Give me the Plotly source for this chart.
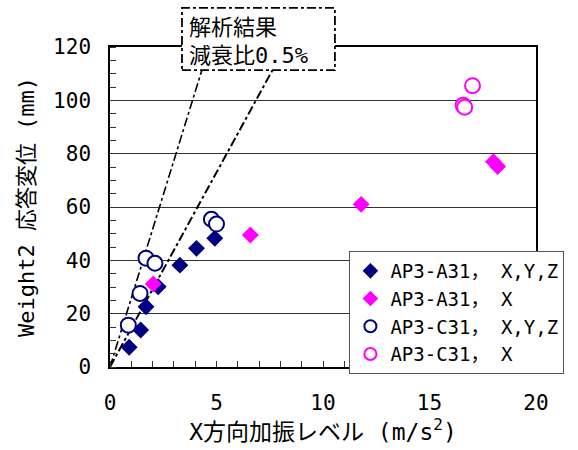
import plotly.graph_objects as go

# Measured response of Weight2 vs. X-direction excitation level
a31_xyz_x = [0.90, 1.44, 1.69, 2.26, 3.28, 4.06, 4.92]
a31_xyz_y = [7.4, 13.9, 22.6, 30.1, 38.2, 44.5, 48.3]

a31_x_x = [2.03, 6.59, 11.79, 18.0, 18.2]
a31_x_y = [31.1, 49.5, 61.0, 77.0, 75.2]

c31_xyz_x = [0.86, 1.41, 1.69, 2.11, 4.76, 5.00]
c31_xyz_y = [15.7, 27.6, 40.8, 38.9, 55.4, 53.6]

c31_x_x = [16.58, 16.65, 17.02]
c31_x_y = [98.2, 97.4, 105.5]

# Analysis results (damping ratio 0.5%)
ana1_x = [0.0, 4.32]
ana1_y = [0.0, 111.5]
ana2_x = [0.0, 7.64]
ana2_y = [0.0, 111.5]

names = ["AP3-A31， X,Y,Z", "AP3-A31， X", "AP3-C31， X,Y,Z", "AP3-C31， X"]
callout_lines = ["解析結果", "減衰比0.5%"]

NAVY = "#000080"
PINK = "#FF00FF"
FONT = "DejaVu Sans Mono, Noto Sans CJK JP"

fig = go.Figure()

for xs, ys, w in [(ana1_x, ana1_y, 1.6), (ana2_x, ana2_y, 2.0)]:
    fig.add_trace(go.Scatter(x=xs, y=ys, mode="lines", showlegend=False,
                             line=dict(color="black", width=w, dash="dashdot"),
                             hoverinfo="skip"))

fig.add_trace(go.Scatter(x=a31_xyz_x, y=a31_xyz_y, mode="markers", name=names[0],
                         marker=dict(symbol="diamond", size=13, color=NAVY,
                                     line=dict(width=0))))
fig.add_trace(go.Scatter(x=a31_x_x, y=a31_x_y, mode="markers", name=names[1],
                         marker=dict(symbol="diamond", size=13, color=PINK,
                                     line=dict(width=0))))
fig.add_trace(go.Scatter(x=c31_xyz_x, y=c31_xyz_y, mode="markers", name=names[2],
                         marker=dict(symbol="circle", size=15, color="white",
                                     line=dict(width=2, color=NAVY))))
fig.add_trace(go.Scatter(x=c31_x_x, y=c31_x_y, mode="markers", name=names[3],
                         marker=dict(symbol="circle", size=15, color="white",
                                     line=dict(width=2, color=PINK))))

# Callout box with dash-dot border
fig.add_shape(type="rect", xref="paper", yref="paper",
              x0=0.169, x1=0.528, y0=0.928, y1=1.122,
              line=dict(color="black", width=1.8, dash="dashdot"),
              fillcolor="white", layer="above")
for txt, yp in zip(callout_lines, [1.0625, 0.975]):
    fig.add_annotation(xref="paper", yref="paper", x=0.180, y=yp,
                       xanchor="left", yanchor="middle", align="left",
                       text=txt, showarrow=False,
                       font=dict(family=FONT, size=22, color="black"))

fig.update_layout(
    width=578, height=450,
    margin=dict(l=110, r=42, t=47, b=83),
    paper_bgcolor="white", plot_bgcolor="white",
    font=dict(family=FONT, size=21, color="black"),
    legend=dict(x=0.562, y=0.3625, xanchor="left", yanchor="top",
                bgcolor="white", bordercolor="#555555", borderwidth=1,
                font=dict(family=FONT, size=19, color="black"),
                itemsizing="constant", tracegroupgap=0),
)

fig.update_xaxes(range=[0, 20], tickvals=[0, 5, 10, 15, 20],
                 ticks="", showgrid=False, zeroline=False, automargin=False,
                 showline=True, linecolor="black", linewidth=1.5, mirror=True,
                 minor=dict(dtick=1, ticks="inside", ticklen=6,
                            tickcolor="#333333", showgrid=False),
                 ticklabelstandoff=16,
                 title=dict(text="X方向加振レベル (m/s<sup>2</sup>)", standoff=0,
                            font=dict(family=FONT, size=23)),
                 tickfont=dict(size=21))
fig.update_yaxes(range=[0, 120], tickvals=[0, 20, 40, 60, 80, 100, 120],
                 ticks="", showgrid=True, gridcolor="#333333", gridwidth=1,
                 zeroline=False, automargin=False,
                 showline=True, linecolor="black", linewidth=1.5, mirror=True,
                 minor=dict(dtick=5, ticks="inside", ticklen=6,
                            tickcolor="#333333", showgrid=False),
                 ticklabelstandoff=13,
                 title=dict(text="Weight2 応答変位 (mm)", standoff=12,
                            font=dict(family=FONT, size=22)),
                 tickfont=dict(size=21))

fig.write_html("out.html")
